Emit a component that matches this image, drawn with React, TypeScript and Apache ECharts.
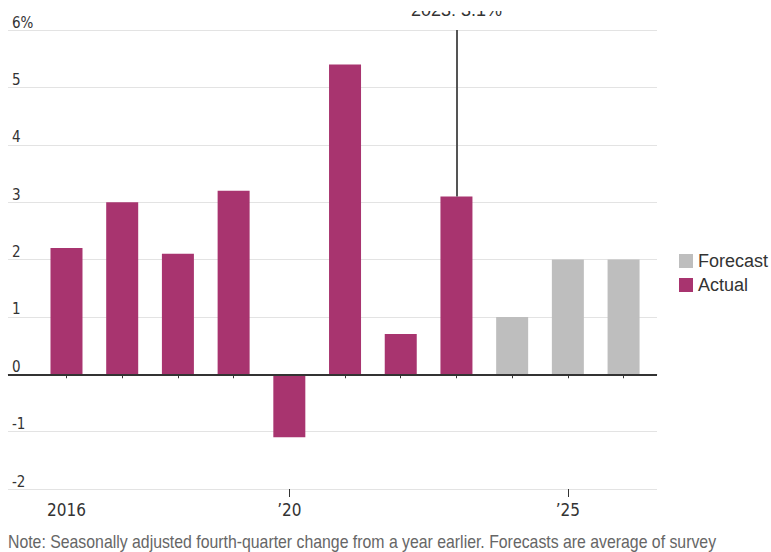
import React, { useEffect, useRef } from "react";
import * as echarts from "echarts";

const actualYears = [2016, 2017, 2018, 2019, 2020, 2021, 2022, 2023];
const actualValues = [2.2, 3.0, 2.1, 3.2, -1.1, 5.4, 0.7, 3.1];
const forecastYears = [2024, 2025, 2026];
const forecastValues = [1.0, 2.0, 2.0];
const tickYears = [2016, 2017, 2018, 2019, 2020, 2021, 2022, 2023, 2024, 2025, 2026];
const majorTickYears = [2020, 2025];
const labelYears = [2016, 2020, 2025];
const annotationYear = 2023;
const annotationValue = 3.1;
const noteText =
  "Note: Seasonally adjusted fourth-quarter change from a year earlier. Forecasts are average of survey";

const FONT = "'Liberation Sans', Arial, sans-serif";
const NARROW = "'DejaVu Sans Condensed', 'Liberation Sans Narrow', 'Liberation Sans', sans-serif";
const MAGENTA = "#A8346F";
const GRAY = "#BEBEBE";

export default function App() {
  const ref = useRef<HTMLDivElement>(null);
  useEffect(() => {
    if (!ref.current) return;
    const chart = echarts.init(ref.current, undefined, { renderer: "svg" });
    const fmtYear = (v: number) => (v === 2016 ? "2016" : "\u2019" + String(v).slice(2));
    chart.setOption({
      animation: false,
      textStyle: { fontFamily: FONT },
      grid: { left: 8, right: 114, top: 30, bottom: 63 },
      legend: {
        orient: "vertical",
        left: 674,
        top: 247,
        icon: "rect",
        itemWidth: 14,
        itemHeight: 14,
        itemGap: 6,
        data: ["Forecast", "Actual"],
        textStyle: { fontFamily: FONT, fontSize: 18, color: "#333" },
      },
      graphic: [
        {
          type: "text",
          left: 8,
          top: 533,
          scaleX: 0.88,
          style: {
            text: noteText,
            fontFamily: FONT,
            fontSize: 18,
            fill: "#666",
          },
        },
        {
          type: "rect",
          z: 100,
          shape: { x: 380, y: 0, width: 160, height: 11 },
          style: { fill: "#fff" },
        },
      ],
      xAxis: [
        {
          type: "value",
          min: 2014.95,
          max: 2026.6,
          splitLine: { show: false },
          axisLine: { show: true, lineStyle: { color: "#dddddd", width: 1 } },
          axisTick: {
            show: true,
            customValues: tickYears,
            length: 4,
            lineStyle: { color: "#333", width: 1 },
          },
          axisLabel: {
            customValues: labelYears,
            formatter: fmtYear,
            fontFamily: NARROW,
            fontSize: 17,
            color: "#333",
            margin: 12,
          },
        },
        {
          type: "value",
          min: 2014.95,
          max: 2026.6,
          position: "bottom",
          splitLine: { show: false },
          axisLine: { show: false },
          axisTick: {
            show: true,
            customValues: majorTickYears,
            length: 8,
            lineStyle: { color: "#333", width: 1 },
          },
          axisLabel: { show: false },
        },
      ],
      yAxis: {
        type: "value",
        min: -2,
        max: 6,
        interval: 1,
        axisLine: { show: false },
        axisTick: { show: false },
        splitLine: { lineStyle: { color: "#e3e3e3", width: 1 } },
        axisLabel: {
          inside: true,
          verticalAlign: "bottom",
          align: "left",
          margin: 4,
          padding: [0, 0, 0, 0],
          fontFamily: NARROW,
          fontSize: 15,
          color: "#333",
          formatter: (v: number) => (v === 6 ? "6%" : String(v)),
        },
      },
      series: [
        {
          name: "Forecast",
          type: "bar",
          barWidth: 32,
          barGap: "-100%",
          itemStyle: { color: GRAY },
          data: forecastYears.map((y, i) => [y, forecastValues[i]]),
        },
        {
          name: "Actual",
          type: "bar",
          barWidth: 32,
          barGap: "-100%",
          itemStyle: { color: MAGENTA },
          data: actualYears.map((y, i) => [y, actualValues[i]]),
          markLine: {
            silent: true,
            symbol: "none",
            animation: false,
            data: [
              {
                yAxis: 0,
                lineStyle: { color: "#333", width: 2, type: "solid" },
                label: { show: false },
              },
              [
                {
                  coord: [annotationYear, annotationValue],
                  lineStyle: { color: "#555", width: 2, type: "solid" },
                },
                {
                  coord: [annotationYear, 6],
                },
              ],
            ],
            label: {
              show: true,
              position: "end",
              formatter: (p: any) =>
                p.dataIndex === 1 ? annotationYear + ": " + annotationValue + "%" : "",
              fontFamily: FONT,
              fontSize: 18,
              color: "#333",
              distance: 11,
            },
          },
        },
      ],
    });
    return () => chart.dispose();
  }, []);
  return (
    <div
      ref={ref}
      style={{ position: "absolute", left: 0, top: 0, width: 771, height: 552, background: "#fff" }}
    />
  );
}
